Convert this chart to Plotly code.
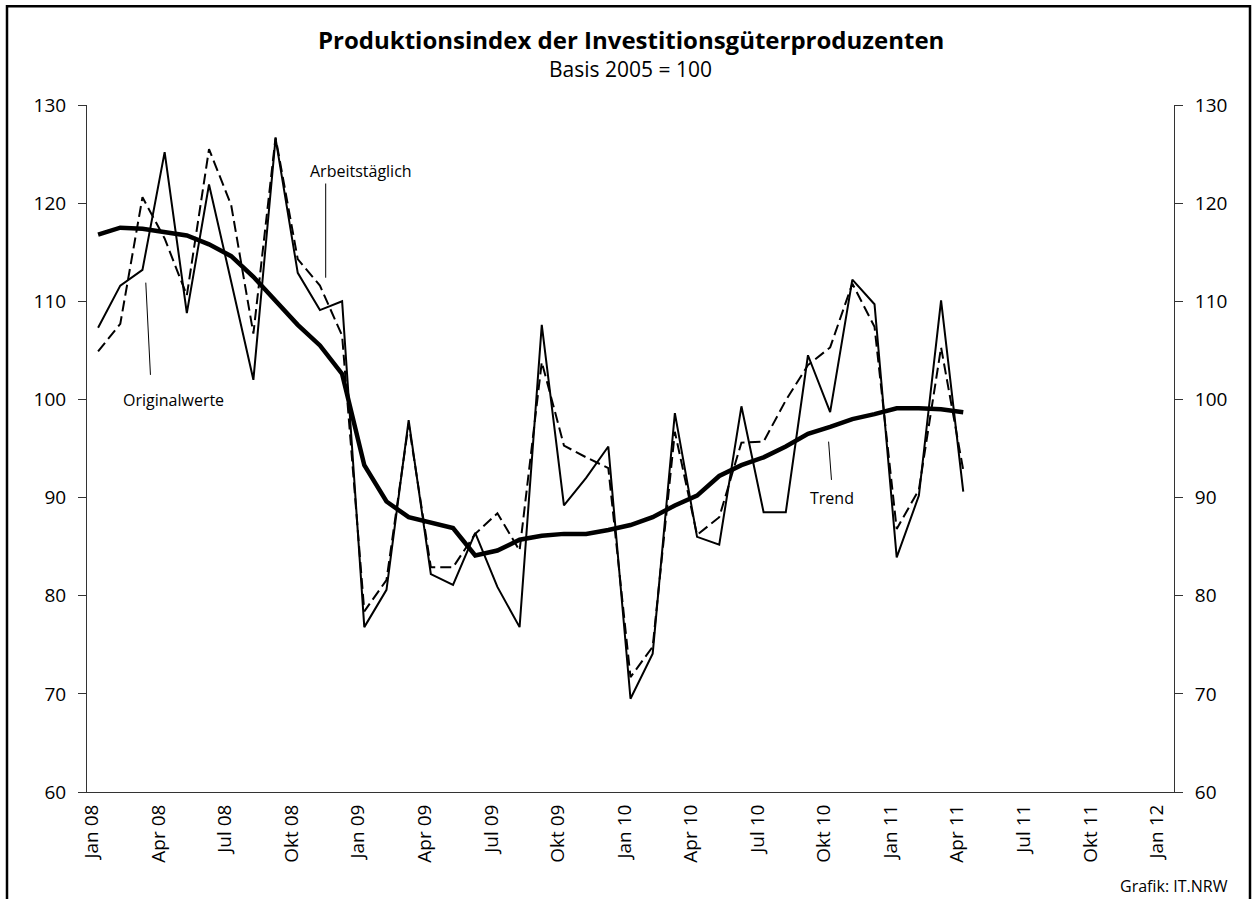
import plotly.graph_objects as go

# ---- data (monthly, Jan 08 .. Apr 11) ----
month_labels = ["Jan 08", "Apr 08", "Jul 08", "Okt 08", "Jan 09", "Apr 09", "Jul 09", "Okt 09",
                "Jan 10", "Apr 10", "Jul 10", "Okt 10", "Jan 11", "Apr 11", "Jul 11", "Okt 11", "Jan 12"]
n_months_axis = 49  # Jan 08 .. Jan 12

originalwerte = [107.3, 111.6, 113.2, 125.2, 108.8, 121.9, 112.0, 102.0, 126.6, 112.9, 109.1, 110.0,
                 76.8, 80.6, 97.9, 82.2, 81.1, 86.4, 80.9, 76.8, 107.6, 89.2, 92.0, 95.2,
                 69.5, 74.1, 98.6, 86.0, 85.2, 99.3, 88.5, 88.5, 104.5, 98.7, 112.2, 109.7,
                 83.9, 90.2, 110.1, 90.6]
arbeitstaeglich = [104.9, 107.7, 120.6, 116.4, 110.6, 125.5, 119.8, 106.7, 126.7, 114.3, 111.6, 106.5,
                   78.4, 81.6, 97.5, 82.9, 82.9, 86.3, 88.4, 84.6, 103.8, 95.3, 94.1, 93.0,
                   71.7, 74.8, 96.7, 86.2, 88.0, 95.6, 95.7, 99.9, 103.5, 105.3, 111.8, 107.4,
                   86.8, 90.8, 105.3, 92.8]
trend = [116.8, 117.5, 117.4, 117.1, 116.7, 115.8, 114.6, 112.5, 110.1, 107.6, 105.5, 102.6,
         93.3, 89.6, 88.0, 87.4, 86.9, 84.1, 84.6, 85.7, 86.1, 86.3, 86.3, 86.7,
         87.2, 88.0, 89.2, 90.2, 92.2, 93.3, 94.1, 95.2, 96.5, 97.2, 98.0, 98.5,
         99.1, 99.1, 99.0, 98.7]

x = list(range(len(trend)))
tick_vals = [3 * i - 0.27 for i in range(len(month_labels))]
y_ticks = [60, 70, 80, 90, 100, 110, 120, 130]

FONT = "Open Sans"

fig = go.Figure()
fig.add_trace(go.Scatter(x=x, y=originalwerte, mode="lines", name="Originalwerte",
                         line=dict(color="black", width=2), hoverinfo="skip"))
fig.add_trace(go.Scatter(x=x, y=arbeitstaeglich, mode="lines", name="Arbeitstäglich",
                         line=dict(color="black", width=2, dash="11px,5px"), hoverinfo="skip"))
fig.add_trace(go.Scatter(x=x, y=trend, mode="lines", name="Trend",
                         line=dict(color="black", width=4.5), hoverinfo="skip"))
# invisible trace for the right-hand axis
fig.add_trace(go.Scatter(x=[x[0]], y=[trend[0]], yaxis="y2", mode="lines",
                         line=dict(width=0), showlegend=False, hoverinfo="skip"))

yax = dict(range=[60, 130], tickvals=y_ticks, ticks="outside", ticklen=8, tickwidth=1,
           tickcolor="#333", showline=True, linecolor="#333", linewidth=1, showgrid=False,
           zeroline=False, ticklabelstandoff=8,
           tickfont=dict(family=FONT, size=19, color="black"))

fig.update_layout(
    width=1254, height=899,
    margin=dict(l=87, r=80, t=105, b=107),
    paper_bgcolor="white", plot_bgcolor="white",
    showlegend=False,
    font=dict(family=FONT, color="black"),
    xaxis=dict(range=[-0.5, n_months_axis - 0.5], tickvals=tick_vals, ticktext=month_labels,
               tickangle=-90, ticks="", showline=True, linecolor="#333", linewidth=1,
               showgrid=False, zeroline=False, ticklabelstandoff=4,
               tickfont=dict(family=FONT, size=19, color="black")),
    yaxis=dict(side="left", **yax),
    yaxis2=dict(side="right", overlaying="y", **yax),
)

# title / subtitle
fig.add_annotation(text="<b>Produktionsindex der Investitionsgüterproduzenten</b>", xref="paper", yref="paper",
                   x=0.5, y=(792 - 39) / 687.3, xanchor="center", yanchor="middle", showarrow=False,
                   font=dict(family=FONT, size=24, color="black"))
fig.add_annotation(text="Basis 2005 = 100", xref="paper", yref="paper",
                   x=0.5, y=(792 - 69) / 687.3, xanchor="center", yanchor="middle", showarrow=False,
                   font=dict(family=FONT, size=21, color="black"))

# series labels with leader lines
fig.add_annotation(text="Arbeitstäglich", x=9.45, y=123.3, xanchor="left", yanchor="middle",
                   showarrow=False, font=dict(family=FONT, size=16))
fig.add_shape(type="line", x0=10.26, x1=10.26, y0=122.0, y1=112.4, line=dict(color="black", width=1))
fig.add_annotation(text="Originalwerte", x=3.4, y=99.9, xanchor="center", yanchor="middle",
                   showarrow=False, font=dict(family=FONT, size=16))
fig.add_shape(type="line", x0=2.15, x1=2.36, y0=111.9, y1=102.5, line=dict(color="black", width=1))
fig.add_annotation(text="Trend", x=33.1, y=90.0, xanchor="center", yanchor="middle",
                   showarrow=False, font=dict(family=FONT, size=16))
fig.add_shape(type="line", x0=32.93, x1=33.06, y0=95.7, y1=91.8, line=dict(color="black", width=1))

# source
fig.add_annotation(text="Grafik: IT.NRW", xref="paper", yref="paper", x=(1230 - 87) / 1087,
                   y=(792 - 886) / 687.3, xanchor="right", yanchor="middle", showarrow=False,
                   font=dict(family=FONT, size=16))

# outer frame
fig.add_shape(type="rect", xref="paper", yref="paper",
              x0=(7 - 87) / 1087, x1=(1250 - 87) / 1087,
              y0=(792 - 905) / 687.3, y1=(792 - 6) / 687.3,
              line=dict(color="black", width=2.5))

fig.write_html("out.html", config={"displayModeBar": False},
               post_script="document.body.style.margin='0';document.body.style.overflow='hidden';")
